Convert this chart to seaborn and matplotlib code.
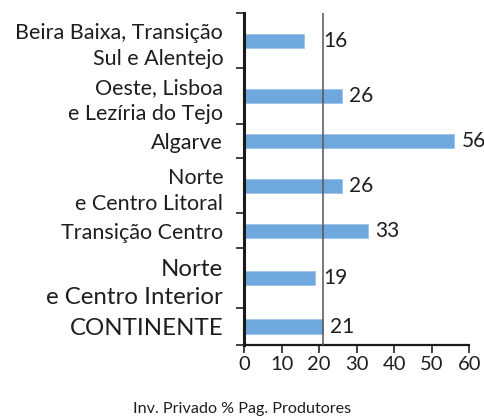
import numpy as np
import pandas as pd
import matplotlib
matplotlib.use("Agg")
import matplotlib.pyplot as plt
import seaborn as sns

# Regions (top to bottom) and private investment as % of producer payments
regions = [
    "Beira Baixa, Transição\nSul e Alentejo",
    "Oeste, Lisboa\ne Lezíria do Tejo",
    "Algarve",
    "Norte\ne Centro Litoral",
    "Transição Centro",
    "Norte\ne Centro Interior",
    "CONTINENTE",
]
values = [16, 26, 56, 26, 33, 19, 21]
reference_value = 21  # CONTINENTE average, drawn as a vertical rule
large_labels = {"Norte\ne Centro Interior", "CONTINENTE"}
x_ticks = [0, 10, 20, 30, 40, 50, 60]
x_label = "Inv. Privado % Pag. Produtores"

sns.set_theme(style="white")
plt.rcParams["font.family"] = ["Lato", "DejaVu Sans"]
text_color = "#1e1e1e"
bar_color = "#6fa8dc"
small_fs, large_fs = 15.5, 17.3

# Each row gets vertical room according to the height of its label text
n_lines = np.array([r.count("\n") + 1 for r in regions])
label_fs = np.array([large_fs if r in large_labels else small_fs for r in regions])
spans = 0.4 + 0.6 * n_lines * label_fs / small_fs
bounds = np.concatenate([[0], np.cumsum(spans)])
centers = (bounds[:-1] + bounds[1:]) / 2

df = pd.DataFrame({"region": regions, "value": values, "pos": centers})

fig = plt.figure(figsize=(4.85, 4.2), dpi=100)
ax = fig.add_axes([244 / 485, 1 - 345 / 420, (469.5 - 244) / 485, (345 - 13) / 420])

bar_height_units = 0.41
width_param = bar_height_units / np.min(np.diff(centers))
sns.barplot(data=df, x="value", y="pos", orient="h", native_scale=True,
            width=width_param, color=bar_color, saturation=1,
            edgecolor="#9cc3e8", linewidth=0.6, ax=ax)

ax.axvline(reference_value, color="#555555", lw=1.1, zorder=3)

ax.set_xlim(0, 60)
ax.set_ylim(bounds[-1], bounds[0])
ax.set_xticks(x_ticks)
ax.set_xticklabels([str(t) for t in x_ticks], fontsize=14.5, color=text_color)
ax.set_yticks(bounds)
ax.set_yticklabels([])
ax.set_yticks(centers, minor=True)
ax.set_yticklabels(regions, minor=True, color=text_color, linespacing=1.4)
for lbl, fs in zip(ax.get_yticklabels(minor=True), label_fs):
    lbl.set_fontsize(fs)
    lbl.set_horizontalalignment("right")
    lbl.set_multialignment("right")

ax.tick_params(axis="y", which="major", direction="out", length=6, width=1.2,
               color="#222222", left=True)
ax.tick_params(axis="y", which="minor", length=0, pad=15)
ax.tick_params(axis="x", which="major", direction="out", length=6, width=1.2,
               color="#222222", bottom=True, pad=2)
ax.set_xlabel("")
ax.set_ylabel("")

for side in ["top", "right"]:
    ax.spines[side].set_visible(False)
ax.spines["left"].set_linewidth(2.2)
ax.spines["left"].set_color("#1a1a1a")
ax.spines["bottom"].set_linewidth(1.6)
ax.spines["bottom"].set_color("#1a1a1a")

# Value labels; those that would sit behind the rule are pushed just past it
for v, y in zip(values, centers):
    x_anchor = max(v, reference_value)
    off = 5 if v >= reference_value else 0.5
    ax.annotate(str(v), xy=(x_anchor, y), xytext=(off, 0),
                textcoords="offset points", va="center", ha="left",
                fontsize=15, color=text_color, annotation_clip=False)

fig.text(242 / 485, 1 - 409 / 420, x_label, ha="center", va="center",
         fontsize=11.6, color=text_color)

fig.savefig("out.png", dpi=100, facecolor="white")
